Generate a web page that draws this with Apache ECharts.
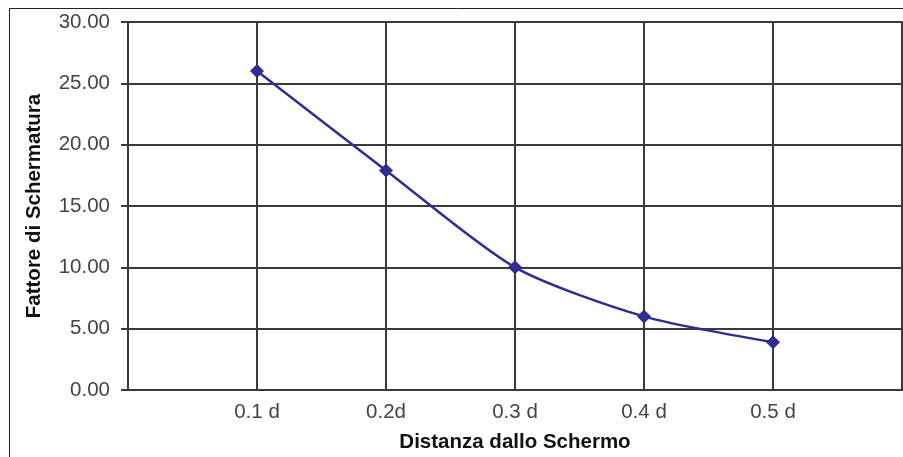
<!DOCTYPE html>
<html>
<head>
<meta charset="utf-8">
<script src="https://cdn.jsdelivr.net/npm/echarts@6/dist/echarts.min.js"></script>
<style>
  html, body { margin: 0; padding: 0; background: #ffffff; }
  #chart { width: 903px; height: 457px; }
</style>
</head>
<body>
<div id="chart"></div>
<script>
// Distance categories; the blank ends leave an empty band on each side of the points
const categories = ['', '0.1 d', '0.2d', '0.3 d', '0.4 d', '0.5 d', ''];
// Shielding factor at each distance
const shieldingFactor = [null, 26.0, 17.9, 10.0, 6.0, 3.9, null];
// Value axis ticks
const yMin = 0;
const yMax = 30;
const yStep = 5;

const chart = echarts.init(document.getElementById('chart'), null, { renderer: 'canvas' });

const gridColor = '#3a3a3a';
const labelFont = 'Liberation Sans, Arial, sans-serif';

chart.setOption({
  animation: false,
  backgroundColor: '#ffffff',
  graphic: [{
    type: 'rect',
    shape: { x: 9.5, y: 8.5, width: 1000, height: 1000 },
    style: { fill: 'none', stroke: '#222222', lineWidth: 1 },
    silent: true
  }],
  grid: {
    left: 128, top: 22, right: 1, bottom: 67,
    outerBoundsMode: 'none',
    containLabel: false,
    show: true, borderColor: '#555555', borderWidth: 2, backgroundColor: 'transparent'
  },
  xAxis: {
    type: 'category',
    data: categories,
    boundaryGap: false,
    name: 'Distanza dallo Schermo',
    nameLocation: 'middle',
    nameGap: 42,
    nameTextStyle: { fontFamily: labelFont, fontSize: 20.5, fontWeight: 'bold', color: '#111111' },
    axisLine: { show: true, lineStyle: { color: gridColor, width: 2 } },
    axisTick: { show: false },
    axisLabel: { fontFamily: labelFont, fontSize: 20.5, color: '#444444', margin: 12, interval: 0 },
    splitLine: { show: true, interval: 0, lineStyle: { color: gridColor, width: 2 } }
  },
  yAxis: {
    type: 'value',
    min: yMin, max: yMax, interval: yStep,
    name: 'Fattore di Schermatura',
    nameLocation: 'middle',
    nameGap: 83,
    nameTextStyle: { fontFamily: labelFont, fontSize: 20.5, fontWeight: 'bold', color: '#111111' },
    axisLine: { show: true, lineStyle: { color: gridColor, width: 2 } },
    axisTick: { show: true, length: 7, lineStyle: { color: gridColor, width: 2 } },
    axisLabel: {
      fontFamily: labelFont, fontSize: 20.5, color: '#444444', margin: 18,
      formatter: v => v.toFixed(2)
    },
    splitLine: { show: true, lineStyle: { color: gridColor, width: 2 } }
  },
  series: [{
    type: 'line',
    data: shieldingFactor,
    smooth: 0.25,
    symbol: 'diamond',
    symbolSize: 14,
    lineStyle: { color: '#2e2e92', width: 2.5 },
    itemStyle: { color: '#2e2e92' },
    connectNulls: false
  }]
});
</script>
</body>
</html>
